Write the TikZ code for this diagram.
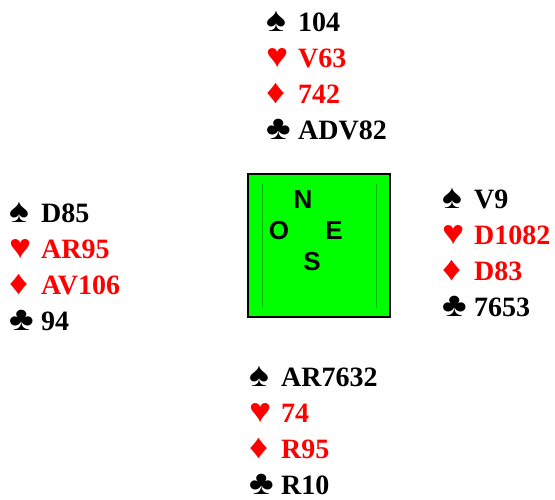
\documentclass[tikz,border=0pt]{standalone}
\usepackage{graphicx}
\usepackage{fontspec}
\setmainfont{Liberation Serif}
\setsansfont{Liberation Sans}
\newfontfamily\suitfont{Liberation Sans}
\usetikzlibrary{positioning}
\definecolor{BRed}{HTML}{FF0000}
\definecolor{BGreen}{HTML}{00FF00}
\definecolor{BLine}{HTML}{00B400}
\colorlet{suit0}{black}
\colorlet{suit1}{BRed}
\colorlet{suit2}{BRed}
\colorlet{suit3}{black}
\newcommand{\suitsym}[1]{\scalebox{1.1}[1]{\fontsize{34}{34}\selectfont\ifcase#1 ♠\or ♥\or ♦\or ♣\fi}}

\begin{document}
\begin{tikzpicture}[x=1pt,y=-1pt,
    cards/.style={anchor=base west,inner sep=0pt,font=\fontsize{28}{34}\selectfont\bfseries},
    compass/.style={inner sep=0pt,font=\sffamily\bfseries\fontsize{26}{30}\selectfont},
    board/.style={draw=black,line width=2pt,fill=BGreen,minimum width=142pt,minimum height=143pt}]
    \useasboundingbox (0,0) rectangle (555,499);
    % the four hands
    \foreach \hnd/\x/\y/\cardlist in {north/266/31.5/{104,V63,742,ADV82},
        west/9/222/{D85,AR95,AV106,94},
        east/442/208/{V9,D1082,D83,7653},
        south/249/386/{AR7632,74,R95,R10}}{
      \foreach \c [count=\i from 0] in \cardlist{
        \node[cards,text=suit\i] (\hnd-\i) at (\x,\y+36*\i)
            {\makebox[32pt][l]{\suitfont\suitsym{\i}}\c};
      }
    }
    % table in the middle
    \node[board] (table) at (319,245.5) {};
    \draw[BLine,line width=0.6pt] ([xshift=15pt,yshift=-11pt]table.north west)
        -- ([xshift=15pt,yshift=10pt]table.south west);
    \draw[BLine,line width=0.6pt] ([xshift=-15pt,yshift=-11pt]table.north east)
        -- ([xshift=-15pt,yshift=10pt]table.south east);
    \node[compass] (n) at (303,200) {N};
    \node[compass] (o) at (279,231) {O};
    \node[compass] (e) at (334,231) {E};
    \node[compass] (s) at (312,262) {S};
\end{tikzpicture}
\end{document}
